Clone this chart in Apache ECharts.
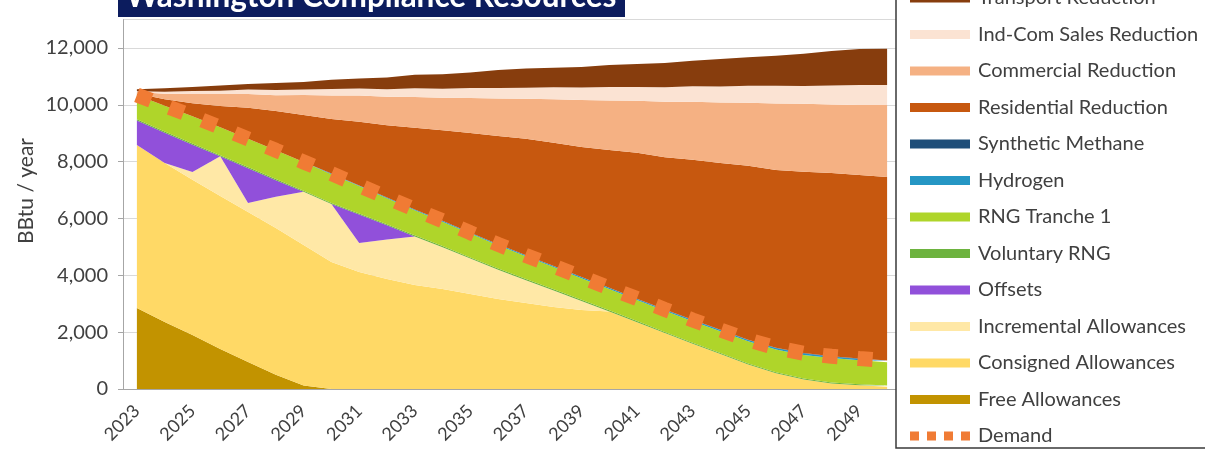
<!DOCTYPE html>
<html>
<head>
<meta charset="utf-8">
<script src="https://cdn.jsdelivr.net/npm/echarts@6/dist/echarts.min.js"></script>
<style>
  html, body { margin: 0; padding: 0; background: #ffffff; }
  #chart { width: 1205px; height: 451px; }
</style>
</head>
<body>
<div id="chart"></div>
<script>
// Compliance years (category axis)
const years = ['2023','2024','2025','2026','2027','2028','2029','2030','2031','2032',
  '2033','2034','2035','2036','2037','2038','2039','2040','2041','2042',
  '2043','2044','2045','2046','2047','2048','2049','2050'];

// Supply resources, BBtu / year (stacked from the bottom)
const freeAllowances = [2850, 2360, 1900, 1410, 950, 500, 120, 0, 0, 0,
  0, 0, 0, 0, 0, 0, 0, 0, 0, 0, 0, 0, 0, 0, 0, 0, 0, 0];
const consignedAllowances = [5740, 5590, 5460, 5380, 5280, 5170, 4950, 4470, 4120, 3870,
  3660, 3520, 3340, 3170, 3030, 2890, 2780, 2730, 2350, 1970, 1590, 1230, 860, 550, 330, 190, 130, 80];
const incrementalAllowances = [0, 0, 280, 1400, 320, 1100, 1870, 2040, 1020, 1390,
  1710, 1470, 1250, 1030, 800, 580, 320, 0, 0, 0, 0, 0, 0, 0, 0, 0, 0, 0];
const offsets = [860, 1070, 960, 0, 1220, 580, 0, 0, 1000, 500,
  0, 0, 0, 0, 0, 0, 0, 0, 0, 0, 0, 0, 0, 0, 0, 0, 0, 0];
const voluntaryRNG = [40, 40, 40, 40, 40, 40, 40, 40, 40, 40,
  40, 40, 40, 40, 40, 40, 40, 40, 40, 40, 40, 40, 40, 40, 40, 40, 40, 40];
const rngTranche1 = [860, 910, 960, 980, 1000, 1010, 1010, 1010, 960, 910,
  880, 860, 840, 820, 800, 780, 760, 750, 740, 740, 750, 760, 780, 800, 830, 860, 840, 820];
const hydrogen = [0, 0, 0, 0, 0, 0, 0, 20, 25, 25,
  30, 30, 30, 35, 35, 35, 40, 40, 40, 40, 45, 45, 45, 50, 50, 50, 50, 50];
const syntheticMethane = [0, 0, 0, 0, 0, 0, 0, 0, 0, 0,
  0, 0, 0, 0, 0, 0, 0, 0, 10, 10, 10, 10, 10, 10, 15, 15, 15, 15];

// Demand reductions stacked above the supply
const residentialReduction = [50, 230, 460, 750, 1090, 1380, 1650, 1920, 2240, 2550,
  2870, 3190, 3510, 3810, 4100, 4340, 4580, 4850, 5130, 5360, 5630, 5870, 6120, 6260, 6380, 6450, 6460, 6460];
const commercialReduction = [50, 190, 320, 420, 480, 560, 710, 830, 920, 1000,
  1090, 1140, 1230, 1320, 1410, 1530, 1650, 1740, 1830, 1950, 2040, 2130, 2220, 2340, 2390, 2410, 2460, 2530];
const indComSalesReduction = [30, 70, 110, 120, 160, 180, 190, 230, 250, 260,
  300, 320, 350, 370, 390, 420, 440, 480, 490, 510, 550, 560, 600, 620, 630, 670, 700, 700];
const transportReduction = [70, 120, 140, 180, 190, 250, 260, 320, 350, 420,
  480, 510, 550, 630, 670, 690, 720, 770, 810, 850, 900, 970, 1000, 1060, 1130, 1210, 1270, 1280];

// Gas demand line
const demand = [10350, 9970, 9600, 9210, 8800, 8400, 7990, 7580, 7160, 6740,
  6320, 5920, 5500, 5090, 4700, 4320, 3940, 3560, 3180, 2800, 2430, 2080, 1730, 1450, 1260, 1150, 1070, 1000];

const FONT = 'Lato, "Liberation Sans", sans-serif';
const TEXT = '#404040';
const AXIS = '#A6A6A6';

function area(name, data, color) {
  return {
    name: name,
    type: 'line',
    stack: 'total',
    data: data,
    color: color,
    symbol: 'none',
    silent: true,
    lineStyle: { width: 0 },
    areaStyle: { color: color, opacity: 1 },
    emphasis: { disabled: true },
    z: 2
  };
}

const series = [
  area('Free Allowances', freeAllowances, '#C29300'),
  area('Consigned Allowances', consignedAllowances, '#FFD966'),
  area('Incremental Allowances', incrementalAllowances, '#FFE8A6'),
  area('Offsets', offsets, '#9150DA'),
  area('Voluntary RNG', voluntaryRNG, '#6DB33F'),
  area('RNG Tranche 1', rngTranche1, '#AFD52A'),
  area('Hydrogen', hydrogen, '#2596C4'),
  area('Synthetic Methane', syntheticMethane, '#1F4E79'),
  area('Residential Reduction', residentialReduction, '#C7580F'),
  area('Commercial Reduction', commercialReduction, '#F5B183'),
  area('Ind-Com Sales Reduction', indComSalesReduction, '#FBE3D3'),
  area('Transport Reduction', transportReduction, '#873D0D'),
  {
    name: 'Demand',
    type: 'line',
    data: demand,
    color: '#F07B34',
    symbol: 'none',
    silent: true,
    lineStyle: { color: '#F07B34', width: 15, type: [15, 20], cap: 'butt' },
    emphasis: { disabled: true },
    z: 3
  }
];

const legendNames = ['Transport Reduction', 'Ind-Com Sales Reduction', 'Commercial Reduction',
  'Residential Reduction', 'Synthetic Methane', 'Hydrogen', 'RNG Tranche 1', 'Voluntary RNG',
  'Offsets', 'Incremental Allowances', 'Consigned Allowances', 'Free Allowances'];

const chart = echarts.init(document.getElementById('chart'), null, { renderer: 'canvas' });

chart.setOption({
  animation: false,
  backgroundColor: '#ffffff',
  grid: { left: 123, right: 304, top: 19.6, bottom: 62, containLabel: false },
  xAxis: {
    type: 'category',
    data: years,
    boundaryGap: true,
    axisLine: { lineStyle: { color: AXIS, width: 1 } },
    axisTick: { interval: 0, length: 5, lineStyle: { color: AXIS } },
    axisLabel: { interval: 1, rotate: 45, margin: 19, fontFamily: FONT, fontSize: 18, color: TEXT }
  },
  yAxis: {
    type: 'value',
    min: 0,
    max: 13000,
    interval: 2000,
    axisLine: { show: true, lineStyle: { color: AXIS, width: 1 } },
    axisTick: { show: true, length: 5, lineStyle: { color: AXIS } },
    splitLine: { lineStyle: { color: '#D9D9D9', width: 1 } },
    axisLabel: {
      showMaxLabel: false,
      margin: 15,
      fontFamily: FONT,
      fontSize: 20,
      color: TEXT,
      formatter: function (v) { return v.toLocaleString('en-US'); }
    }
  },
  legend: {
    orient: 'vertical',
    left: 910,
    top: -12,
    height: 520,
    padding: 0,
    z: 8,
    itemWidth: 60,
    itemHeight: 9,
    itemGap: 16.5,
    selectedMode: false,
    icon: 'rect',
    itemStyle: { borderWidth: 0 },
    textStyle: { fontFamily: FONT, fontSize: 20, color: TEXT, lineHeight: 20, padding: [0, 0, 0, 3] },
    data: legendNames.concat([{ name: 'Demand', icon: 'path://M0 0H9V9H0Z M17 0H26V9H17Z M34 0H43V9H34Z M51 0H60V9H51Z' }])
  },
  graphic: [
    {
      type: 'rect',
      z: 6,
      shape: { x: 896, y: -5, width: 330, height: 453 },
      style: { fill: '#ffffff', stroke: '#3A3A3A', lineWidth: 1.5 }
    },
    {
      type: 'rect',
      z: 10,
      shape: { x: 118, y: -40, width: 507, height: 57 },
      style: { fill: '#0C1C5E' }
    },
    {
      type: 'text',
      z: 11,
      x: 371,
      y: -3,
      style: {
        text: 'Washington Compliance Resources',
        font: 'bold 31.5px ' + FONT,
        fill: '#ffffff',
        align: 'center',
        verticalAlign: 'middle'
      }
    },
    {
      type: 'text',
      z: 11,
      x: 26,
      y: 191,
      rotation: Math.PI / 2,
      style: {
        text: 'BBtu / year',
        font: '21px ' + FONT,
        fill: TEXT,
        align: 'center',
        verticalAlign: 'middle'
      }
    }
  ],
  series: series
});
</script>
</body>
</html>
